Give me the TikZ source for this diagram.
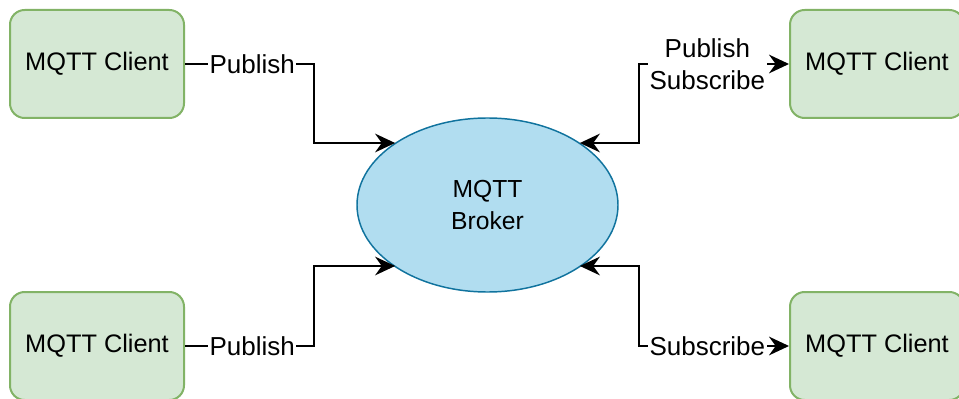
\documentclass[tikz,border=0pt]{standalone}
\usepackage{fontspec}
\setmainfont{Liberation Sans}
\usetikzlibrary{arrows.meta,shapes.geometric}
\definecolor{cgreen}{HTML}{82B366}
\definecolor{cfill}{HTML}{D5E8D4}
\definecolor{bblue}{HTML}{10739E}
\definecolor{bfill}{HTML}{B1DDF0}
\begin{document}
\begin{tikzpicture}[x=0.75pt,y=-0.75pt,
  client/.style={draw=cgreen, fill=cfill, line width=1.5pt, rounded corners=11pt,
    minimum width=130.5pt, minimum height=81pt, inner sep=0pt,
    font=\fontsize{19}{23}\selectfont},
  broker/.style={ellipse, draw=bblue, fill=bfill, line width=1.1pt,
    minimum width=195.75pt, minimum height=130.5pt, inner sep=0pt, align=center,
    font=\fontsize{18.5}{23.5}\selectfont},
  lbl/.style={fill=white, inner sep=1.2pt, align=center, font=\fontsize{19.5}{24}\selectfont},
  conn/.style={line width=1.4pt, black},
  tip/.style={-{Stealth[length=15pt,width=14pt,inset=5pt]}},
  tips/.style={{Stealth[length=15pt,width=14pt,inset=5pt]}-{Stealth[length=15pt,width=14pt,inset=5pt]}}
]
\useasboundingbox (0,0) rectangle (959,399);
\clip (0,0) rectangle (959,399);

\node[client] (c1) at (97,64) {MQTT Client};
\node[client] (c2) at (877,64) {MQTT Client};
\node[client] (c3) at (97,346) {MQTT Client};
\node[client] (c4) at (877,346) {MQTT Client};
\node[broker] (b) at (487.5,205) {MQTT\\Broker};

\coordinate (k1) at (314,143);
\coordinate (k3) at (314,266);
\coordinate (k2) at (639,143);
\coordinate (k4) at (639,266);

\draw[conn,tip] (c1.east) -| node[lbl,pos=0.25,xshift=2pt] {Publish} (k1) -- (b.146 |- k1);
\draw[conn,tip] (c3.east) -| node[lbl,pos=0.25,xshift=2pt] {Publish} (k3) -- (b.214 |- k3);
\draw[conn,tips] (b.34 |- k2) -- (k2) |- node[lbl,pos=0.75,xshift=-5pt] {Publish\\Subscribe} (c2.west);
\draw[conn,tips] (b.326 |- k4) -- (k4) |- node[lbl,pos=0.75,xshift=-5pt] {Subscribe} (c4.west);
\end{tikzpicture}
\end{document}
